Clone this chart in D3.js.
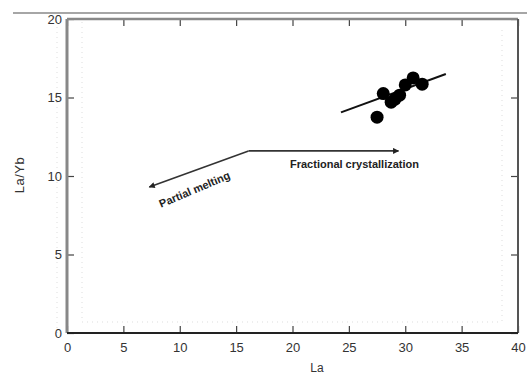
<!DOCTYPE html>
<html><head><meta charset="utf-8">
<script src="https://cdn.jsdelivr.net/npm/d3@7"></script>
<style>body{margin:0;background:#fff}svg{display:block}</style>
</head><body>
<svg id="c" width="527" height="376"></svg>
<script>
// data
const samplesLa = [27.5, 28.05, 28.75, 29.5, 30.0, 30.7, 31.5, 29.1];
const samplesLaYb = [13.75, 15.25, 14.7, 15.15, 15.8, 16.25, 15.85, 14.9];
const trendLa = [24.3, 33.6];
const trendLaYb = [14.05, 16.5];
const fcArrowLa = [16.1, 29.4];
const fcArrowLaYb = [11.6, 11.6];
const pmArrowLa = [16.1, 7.3];
const pmArrowLaYb = [11.6, 9.3];
const xTicks = [0, 5, 10, 15, 20, 25, 30, 35, 40];
const yTicks = [0, 5, 10, 15, 20];
const labels = {x: "La", y: "La/Yb", fc: "Fractional crystallization", pm: "Partial melting"};

const svg = d3.select("#c");
const L = 67, R = 518, T = 19, B = 333;
const x = d3.scaleLinear().domain([0, 40]).range([L, R]);
const y = d3.scaleLinear().domain([0, 20]).range([B, T]);

// top stray rule
svg.append("line").attr("x1", 13).attr("x2", 527).attr("y1", 13).attr("y2", 13)
  .attr("stroke", "#888").attr("stroke-width", 1.5);

// faint dotted guides
const dot = svg.append("g").attr("stroke", "#ddd").attr("stroke-dasharray", "1,4").attr("stroke-width", 1);
dot.append("line").attr("x1", 57).attr("x2", 57).attr("y1", 22).attr("y2", 340);
dot.append("line").attr("x1", 82).attr("x2", 82).attr("y1", 22).attr("y2", 322);
dot.append("line").attr("x1", 82).attr("x2", 502).attr("y1", 322).attr("y2", 322);
dot.append("line").attr("x1", 502).attr("x2", 502).attr("y1", 30).attr("y2", 322);

// axes (ticks inward)
const font = "'Liberation Sans', Arial, sans-serif";
const gx = svg.append("g").attr("transform", `translate(0,${B})`)
  .call(d3.axisBottom(x).tickValues(xTicks).tickSize(-7).tickPadding(10).tickFormat(d3.format("d")));
const gxt = svg.append("g").attr("transform", `translate(0,${T})`)
  .call(d3.axisTop(x).tickValues(xTicks).tickSize(-7).tickFormat(""));
const gy = svg.append("g").attr("transform", `translate(${L},0)`)
  .call(d3.axisLeft(y).tickValues(yTicks).tickSize(-7).tickPadding(5).tickFormat(d3.format("d")));
const gyr = svg.append("g").attr("transform", `translate(${R},0)`)
  .call(d3.axisRight(y).tickValues(yTicks).tickSize(-7).tickFormat(""));
[gx, gxt, gy, gyr].forEach(g => {
  g.select(".domain").remove();
  g.selectAll("line").attr("stroke", "#444").attr("stroke-width", 1.2);
  g.selectAll("text").attr("font-family", font).attr("font-size", 13).attr("fill", "#333");
});

// frame
svg.append("line").attr("x1", L).attr("x2", L).attr("y1", T).attr("y2", B).attr("stroke", "#888").attr("stroke-width", 3);
svg.append("line").attr("x1", L).attr("x2", R).attr("y1", T).attr("y2", T).attr("stroke", "#888").attr("stroke-width", 2.5);
svg.append("line").attr("x1", R).attr("x2", R).attr("y1", T).attr("y2", B).attr("stroke", "#555").attr("stroke-width", 2);
svg.append("line").attr("x1", L).attr("x2", R).attr("y1", B).attr("y2", B).attr("stroke", "#222").attr("stroke-width", 2);

// axis labels
svg.append("text").attr("x", 317).attr("y", 372).attr("text-anchor", "middle")
  .attr("font-family", font).attr("font-size", 12).attr("fill", "#333").text(labels.x);
svg.append("text").attr("transform", "translate(24,175) rotate(-90)").attr("text-anchor", "middle")
  .attr("font-family", font).attr("font-size", 13).attr("letter-spacing", 0.5).attr("fill", "#333").text(labels.y);

// arrow marker
svg.append("defs").append("marker").attr("id", "ah").attr("viewBox", "0 0 10 10")
  .attr("refX", 9).attr("refY", 5).attr("markerWidth", 8).attr("markerHeight", 6)
  .attr("markerUnits", "userSpaceOnUse").attr("orient", "auto")
  .append("path").attr("d", "M0,0L10,5L0,10z").attr("fill", "#222");

const line = d3.line().x(d => x(d[0])).y(d => y(d[1]));
svg.append("path").attr("d", line(d3.zip(fcArrowLa, fcArrowLaYb)))
  .attr("stroke", "#333").attr("stroke-width", 1.6).attr("fill", "none").attr("marker-end", "url(#ah)");
svg.append("path").attr("d", line(d3.zip(pmArrowLa, pmArrowLaYb)))
  .attr("stroke", "#333").attr("stroke-width", 1.6).attr("fill", "none").attr("marker-end", "url(#ah)");

// trend line
svg.append("path").attr("d", line(d3.zip(trendLa, trendLaYb)))
  .attr("stroke", "#111").attr("stroke-width", 2).attr("fill", "none");

// points
svg.append("g").selectAll("circle").data(d3.zip(samplesLa, samplesLaYb)).join("circle")
  .attr("cx", d => x(d[0])).attr("cy", d => y(d[1])).attr("r", 6.5).attr("fill", "#000");

// annotations
svg.append("text").attr("x", 290).attr("y", 168).attr("font-family", font).attr("font-size", 11)
  .attr("font-weight", "bold").attr("fill", "#222").text(labels.fc);
svg.append("text").attr("transform", "translate(196,193) rotate(-23)").attr("text-anchor", "middle")
  .attr("font-family", font).attr("font-size", 11).attr("font-weight", "bold").attr("fill", "#222").text(labels.pm);
</script>
</body></html>
